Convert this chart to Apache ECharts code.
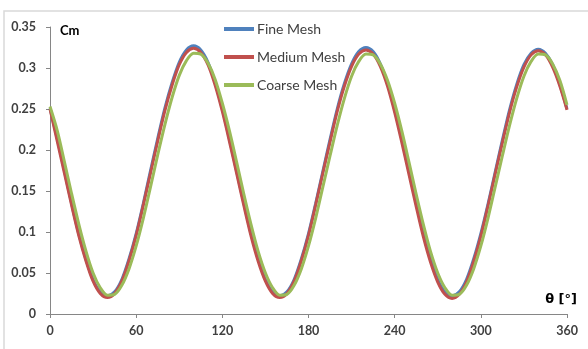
<!DOCTYPE html>
<html>
<head>
<meta charset="utf-8">
<script src="https://cdn.jsdelivr.net/npm/echarts@6/dist/echarts.min.js"></script>
<style>
  html, body { margin: 0; padding: 0; background: #fff; }
  #main { width: 588px; height: 349px; }
</style>
</head>
<body>
<div id="main"></div>
<script>
var theta = [0, 5, 10, 15, 20, 25, 30, 35, 40, 45, 50, 55, 60, 65, 70, 75, 80, 85, 90, 95, 100, 105, 110, 115,
    120, 125, 130, 135, 140, 145, 150, 155, 160, 165, 170, 175, 180, 185, 190, 195, 200, 205, 210, 215, 220, 225, 230, 235,
    240, 245, 250, 255, 260, 265, 270, 275, 280, 285, 290, 295, 300, 305, 310, 315, 320, 325, 330, 335, 340, 345, 350, 355, 360];

var fineMesh = [0.251, 0.214, 0.175, 0.135, 0.098, 0.067, 0.042, 0.027, 0.022, 0.027, 0.042, 0.067, 0.098, 0.135, 0.175, 0.214, 0.251, 0.282, 0.307, 0.322, 0.327, 0.322, 0.307, 0.282,
    0.250, 0.213, 0.174, 0.135, 0.098, 0.067, 0.042, 0.027, 0.022, 0.027, 0.042, 0.067, 0.098, 0.135, 0.174, 0.213, 0.250, 0.281, 0.305, 0.320, 0.325, 0.320, 0.305, 0.281,
    0.249, 0.213, 0.174, 0.135, 0.098, 0.067, 0.042, 0.027, 0.022, 0.027, 0.042, 0.067, 0.098, 0.134, 0.173, 0.212, 0.249, 0.280, 0.304, 0.318, 0.323, 0.318, 0.304, 0.280, 0.250];

var mediumMesh = [0.250, 0.211, 0.172, 0.133, 0.096, 0.065, 0.040, 0.025, 0.020, 0.025, 0.040, 0.065, 0.096, 0.133, 0.172, 0.211, 0.248, 0.279, 0.304, 0.319, 0.324, 0.319, 0.304, 0.279,
    0.247, 0.210, 0.171, 0.132, 0.095, 0.064, 0.040, 0.025, 0.020, 0.025, 0.040, 0.065, 0.096, 0.133, 0.172, 0.210, 0.247, 0.278, 0.302, 0.317, 0.322, 0.317, 0.302, 0.278,
    0.246, 0.209, 0.170, 0.131, 0.094, 0.063, 0.039, 0.024, 0.019, 0.024, 0.039, 0.064, 0.095, 0.132, 0.171, 0.209, 0.246, 0.277, 0.301, 0.316, 0.321, 0.316, 0.301, 0.278, 0.249];

var coarseMesh = [0.253, 0.224, 0.186, 0.147, 0.110, 0.077, 0.050, 0.032, 0.023, 0.024, 0.035, 0.055, 0.083, 0.117, 0.155, 0.194, 0.231, 0.264, 0.291, 0.309, 0.318, 0.317, 0.306, 0.286,
    0.257, 0.223, 0.185, 0.146, 0.109, 0.076, 0.050, 0.032, 0.023, 0.024, 0.035, 0.055, 0.083, 0.117, 0.155, 0.193, 0.230, 0.263, 0.290, 0.308, 0.317, 0.316, 0.305, 0.285,
    0.257, 0.223, 0.185, 0.146, 0.109, 0.076, 0.050, 0.032, 0.023, 0.024, 0.035, 0.055, 0.083, 0.117, 0.155, 0.193, 0.230, 0.263, 0.290, 0.308, 0.317, 0.316, 0.305, 0.285, 0.255];

var seriesNames = ['Fine Mesh', 'Medium Mesh', 'Coarse Mesh'];
var seriesColors = ['#4f81bd', '#c0504d', '#9bbb59'];

function pairs(values) {
    return theta.map(function (t, i) { return [t, values[i]]; });
}

function drawChart() {
    var myChart = echarts.init(document.getElementById('main'));
    var font = 'Lato, "Liberation Sans", sans-serif';
    var allValues = [fineMesh, mediumMesh, coarseMesh];

    var option = {
        backgroundColor: '#fff',
        animation: false,
        textStyle: { fontFamily: font },
        graphic: [
            {
                type: 'rect',
                shape: { x: 4, y: 11, width: 620, height: 400 },
                style: { fill: 'none', stroke: '#d9d9d9', lineWidth: 1.5 }
            },
            {
                type: 'text', left: 60, top: 24,
                style: { text: 'Cm', font: 'bold 13px ' + font, fill: '#000' }
            },
            {
                type: 'text', right: 11, top: 293,
                style: { text: 'θ [°]', font: 'bold 13px "DejaVu Sans", sans-serif', fill: '#000' }
            }
        ],
        legend: {
            orient: 'vertical',
            left: 224,
            top: 22,
            padding: 0,
            icon: 'rect',
            itemWidth: 30,
            itemHeight: 4,
            itemGap: 14,
            textStyle: { fontSize: 14, lineHeight: 14, color: '#404040', fontFamily: font, padding: [0, 0, 0, -2] },
            data: seriesNames
        },
        grid: { left: 50, right: 21, top: 27, bottom: 35, containLabel: false },
        xAxis: {
            type: 'value',
            min: 0, max: 360, interval: 60,
            axisLine: { show: true, lineStyle: { color: '#868686', width: 1 } },
            axisTick: { show: true, length: 4, lineStyle: { color: '#868686' } },
            axisLabel: { color: '#404040', fontSize: 12.5, fontWeight: 'bold', margin: 10 },
            splitLine: { show: false }
        },
        yAxis: {
            type: 'value',
            min: 0, max: 0.35, interval: 0.05,
            axisLine: { show: true, lineStyle: { color: '#868686', width: 1 } },
            axisTick: { show: true, length: 4, lineStyle: { color: '#868686' } },
            axisLabel: { color: '#404040', fontSize: 12.5, fontWeight: 'bold', margin: 14 },
            splitLine: { show: false }
        },
        series: seriesNames.map(function (name, i) {
            return {
                name: name,
                type: 'line',
                data: pairs(allValues[i]),
                showSymbol: false,
                smooth: 0.3,
                z: 2 + i,
                lineStyle: { width: 3, color: seriesColors[i] },
                itemStyle: { color: seriesColors[i] }
            };
        })
    };

    option && myChart.setOption(option);
}

document.addEventListener('DOMContentLoaded', function () {
    drawChart();
});
</script>
</body>
</html>
